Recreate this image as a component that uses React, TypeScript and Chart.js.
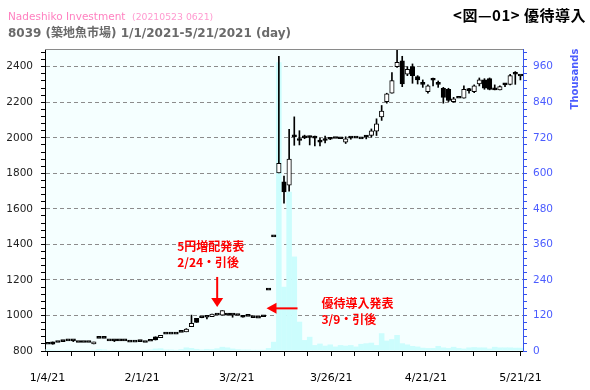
import { useEffect, useRef } from "react";
import { Chart, registerables } from "chart.js";

Chart.register(...registerables);

const dates = [
  "1/4","1/5","1/6","1/7","1/8","1/12","1/13","1/14","1/15","1/18","1/19","1/20","1/21","1/22","1/25","1/26","1/27","1/28","1/29",
  "2/1","2/2","2/3","2/4","2/5","2/8","2/9","2/10","2/12","2/15","2/16","2/17","2/18","2/19","2/22","2/24","2/25","2/26",
  "3/1","3/2","3/3","3/4","3/5","3/8","3/9","3/10","3/11","3/12","3/15","3/16","3/17","3/18","3/19","3/22","3/23","3/24","3/25","3/26","3/29","3/30","3/31",
  "4/1","4/2","4/5","4/6","4/7","4/8","4/9","4/12","4/13","4/14","4/15","4/16","4/19","4/20","4/21","4/22","4/23","4/26","4/27","4/28","4/30",
  "5/6","5/7","5/10","5/11","5/12","5/13","5/14","5/17","5/18","5/19","5/20","5/21",
];

const opens = [
  838,851,848,853,857,857,848,848,848,840,871,871,857,857,857,857,850,850,853,848,
  855,880,875,895,895,895,905,908,937,984,987,990,993,1002,1002,1002,1002,1000,998,995,
  988,985,993,1143,1442,1803,1752,1734,2005,1994,2010,2002,1998,1985,1985,1998,1996,1995,1976,1998,
  1998,1994,2004,2013,2038,2118,2204,2251,2401,2434,2358,2401,2345,2301,2260,2324,2301,2279,2273,2204,
  2223,2223,2273,2260,2303,2326,2333,2275,2270,2298,2301,2358,2348,
];
const highs = [
  838,851,848,853,857,860,848,848,848,850,871,871,857,862,857,857,850,850,853,848,
  855,880,888,895,895,895,905,926,1002,984,990,990,1008,1002,1027,1005,1002,1000,998,995,
  988,985,993,1143,1442,2459,1785,2048,2118,2040,2015,2010,2010,1998,2010,2002,1996,1995,2006,2004,
  1998,1994,2013,2050,2107,2182,2251,2367,2495,2459,2401,2416,2350,2326,2298,2337,2320,2284,2279,2228,
  2223,2292,2279,2298,2337,2333,2337,2298,2292,2307,2358,2373,2348,
];
const lows = [
  838,838,848,853,857,853,848,848,848,840,871,871,857,853,857,857,850,850,853,848,
  855,862,875,895,895,895,905,908,937,961,987,980,993,1002,1002,1002,990,1000,990,995,
  988,985,993,1143,1442,1803,1632,1700,1958,1960,1995,1960,1955,1955,1972,1990,1996,1995,1968,1992,
  1998,1994,1994,2004,2013,2098,2195,2251,2397,2288,2350,2307,2303,2284,2251,2292,2284,2195,2204,2200,
  2223,2223,2251,2254,2292,2273,2270,2270,2270,2288,2298,2301,2326,
];
const closes = [
  838,838,848,853,857,857,848,848,848,850,871,871,857,857,857,857,850,850,853,848,
  855,862,888,895,895,895,905,924,956,961,987,990,1008,1002,1027,1002,1002,1000,990,995,
  988,985,993,1143,1442,1856,1696,1880,2005,1985,2000,2002,1998,1976,1985,1992,1996,1995,1994,1998,
  1998,1994,2004,2040,2079,2151,2247,2322,2425,2303,2386,2350,2326,2301,2292,2324,2301,2228,2210,2219,
  2223,2273,2266,2292,2326,2279,2273,2270,2288,2298,2350,2358,2348,
];
// volume in thousands of shares
const volumes = [
  5,4,3,3,4,3,3,3,3,4,6,5,3,4,3,3,3,3,3,4,
  5,8,9,5,5,4,6,12,10,7,5,7,6,9,14,12,8,6,5,5,
  4,4,4,10,31,975,217,538,319,99,37,48,20,25,18,22,15,20,18,20,
  15,24,26,28,20,60,35,40,54,26,22,17,15,11,10,10,17,12,10,14,
  10,8,12,13,12,12,8,14,12,12,12,11,11,
];

const xTickLabels = ["1/4/21", "2/1/21", "3/2/21", "3/26/21", "4/21/21", "5/21/21"];

const annotationLines = [
  ["5円増配発表", "2/24・引後"],
  ["優待導入発表", "3/9・引後"],
];
const annotationIndex = [33, 42.6];
const annotationPrice = [1048, 1040];

const FONT = "'DejaVu Sans', 'Noto Sans CJK JP', sans-serif";
const CJK = "'Noto Sans CJK JP', 'DejaVu Sans', sans-serif";

function range(a: number, b: number, s: number) {
  const out: number[] = [];
  for (let v = a; v <= b + 1e-9; v += s) out.push(v);
  return out;
}

const decor = {
  id: "decor",
  beforeDraw(chart: any) {
    const { ctx, chartArea: a } = chart;
    ctx.save();
    ctx.fillStyle = "#f5ffff";
    ctx.fillRect(a.left, a.top, a.right - a.left, a.bottom - a.top);
    ctx.restore();
  },
  afterDraw(chart: any) {
    const { ctx, chartArea: a, scales } = chart;
    ctx.save();
    ctx.strokeStyle = "#8a8a8a";
    ctx.lineWidth = 1;
    ctx.beginPath();
    ctx.moveTo(a.left, a.top + 0.5);
    ctx.lineTo(a.right, a.top + 0.5);
    ctx.stroke();

    // header
    ctx.textBaseline = "alphabetic";
    ctx.textAlign = "left";
    ctx.fillStyle = "#ff80c0";
    ctx.font = `10.5px ${FONT}`;
    ctx.fillText("Nadeshiko Investment", 8, 20);
    ctx.fillStyle = "#ff9ad0";
    ctx.font = `9.3px ${FONT}`;
    ctx.fillText("(20210523 0621)", 132, 20);
    ctx.fillStyle = "#6a6a6a";
    ctx.font = `bold 12px ${FONT}`;
    ctx.fillText("8039 (築地魚市場) 1/1/2021-5/21/2021 (day)", 8, 37);
    ctx.fillStyle = "#000";
    ctx.font = `bold 15px ${CJK}`;
    ctx.textAlign = "right";
    (ctx as any).letterSpacing = "0.5px";
    ctx.fillText("<図—01> 優待導入", 586, 21);
    (ctx as any).letterSpacing = "0px";

    // right axis title
    ctx.save();
    ctx.translate(578, 79);
    ctx.rotate(-Math.PI / 2);
    ctx.textAlign = "center";
    ctx.fillStyle = "#4b5cff";
    ctx.font = `bold 10px ${FONT}`;
    ctx.fillText("Thousands", 0, 0);
    ctx.restore();

    // annotations
    const xs = scales.x;
    const ys = scales.y;
    ctx.fillStyle = "#ff0000";
    ctx.strokeStyle = "#ff0000";
    ctx.lineWidth = 2;
    ctx.textAlign = "left";
    ctx.font = `bold 12px ${CJK}`;
    {
      const x = xs.getPixelForValue(annotationIndex[0]);
      const y = ys.getPixelForValue(annotationPrice[0]);
      ctx.beginPath();
      ctx.moveTo(x, y - 30);
      ctx.lineTo(x, y - 8);
      ctx.stroke();
      ctx.beginPath();
      ctx.moveTo(x - 6, y - 9);
      ctx.lineTo(x + 6, y - 9);
      ctx.lineTo(x, y);
      ctx.closePath();
      ctx.fill();
      ctx.fillText(annotationLines[0][0], x - 40, y - 56);
      ctx.fillText(annotationLines[0][1], x - 40, y - 40);
    }
    {
      const x = xs.getPixelForValue(annotationIndex[1]);
      const y = ys.getPixelForValue(annotationPrice[1]);
      ctx.beginPath();
      ctx.moveTo(x + 9, y);
      ctx.lineTo(x + 31, y);
      ctx.stroke();
      ctx.beginPath();
      ctx.moveTo(x + 10, y - 5.5);
      ctx.lineTo(x + 10, y + 5.5);
      ctx.lineTo(x, y);
      ctx.closePath();
      ctx.fill();
      ctx.fillText(annotationLines[1][0], x + 55, y);
      ctx.fillText(annotationLines[1][1], x + 55, y + 16);
    }
    ctx.restore();
  },
};

export default function App() {
  const ref = useRef<HTMLCanvasElement>(null);
  useEffect(() => {
    const canvas = ref.current!;
    const bodies = opens.map((o, i) => [o, closes[i]]);
    const wicks = highs.map((h, i) => (h === lows[i] ? null : [lows[i], h]));
    const bodyFill = opens.map((o, i) => (closes[i] > o ? "#ffffff" : "#000000"));
    const n = dates.length;
    const xTicks = range(0, 20, 1).map((k) => (k * (n - 1)) / 20);

    const chart = new Chart(canvas, {
      type: "bar",
      data: {
        labels: dates,
        datasets: [
          {
            label: "body",
            data: bodies as any,
            xAxisID: "x",
            yAxisID: "y",
            backgroundColor: bodyFill,
            borderColor: "#000",
            borderWidth: 1,
            borderSkipped: false,
            barThickness: 4.5,
            minBarLength: 2,
            grouped: false,
            order: 1,
          } as any,
          {
            label: "wick",
            data: wicks as any,
            xAxisID: "x",
            yAxisID: "y",
            backgroundColor: "#000",
            barThickness: 1,
            grouped: false,
            order: 2,
          } as any,
          {
            label: "volume",
            data: volumes,
            xAxisID: "x",
            yAxisID: "yv",
            backgroundColor: "#ccfdfd",
            barPercentage: 1.08,
            categoryPercentage: 1,
            grouped: false,
            order: 3,
          } as any,
        ],
      },
      options: {
        responsive: false,
        animation: false,
        devicePixelRatio: 1,
        layout: { padding: { top: 49, left: 0, right: 0, bottom: 0 } },
        plugins: { legend: { display: false }, tooltip: { enabled: false }, title: { display: false } },
        scales: {
          x: { type: "category", offset: true, display: false, grid: { display: false } },
          xt: {
            type: "linear",
            position: "bottom",
            offset: false,
            min: -0.5,
            max: n - 0.5,
            afterBuildTicks: (s: any) => {
              s.ticks = xTicks.map((v) => ({ value: v }));
            },
            afterFit: (s: any) => {
              s.height = 39;
            },
            ticks: {
              autoSkip: false,
              maxRotation: 0,
              padding: 16,
              color: "#000",
              font: { family: FONT, size: 11 },
              callback: (_v: any, i: number) => (i % 4 === 0 ? xTickLabels[i / 4] : ""),
            },
            grid: { offset: false, drawOnChartArea: false, tickLength: 5, tickColor: "#000", color: "#000" },
            border: { color: "#000" },
          } as any,
          y: {
            position: "left",
            min: 800,
            max: 2500,
            afterBuildTicks: (s: any) => {
              s.ticks = range(800, 2480, 40).map((v) => ({ value: v }));
            },
            afterFit: (s: any) => {
              s.width = 45;
            },
            ticks: {
              autoSkip: false,
              padding: 8,
              color: "#222",
              font: { family: FONT, size: 10.5 },
              callback: (v: any) => (Math.round(v) % 200 === 0 ? String(v) : ""),
            },
            grid: {
              color: (c: any) =>
                c.tick && Math.round(c.tick.value) % 200 === 0 && c.tick.value > 800 ? "#8c8c8c" : "rgba(0,0,0,0)",
              tickColor: "#000",
              tickLength: 4,
            },
            border: { color: "#000", dash: [4, 3] },
          } as any,
          yv: {
            position: "right",
            min: 0,
            max: 1020,
            afterBuildTicks: (s: any) => {
              s.ticks = range(0, 1008, 24).map((v) => ({ value: v }));
            },
            afterFit: (s: any) => {
              s.width = 67;
            },
            ticks: {
              autoSkip: false,
              padding: 6,
              color: "#4b5cff",
              font: { family: FONT, size: 10.5 },
              callback: (v: any) => (Math.round(v) % 120 === 0 ? String(v) : ""),
            },
            grid: { drawOnChartArea: false, tickColor: "#3553ee", tickLength: 4 },
            border: { color: "#3553ee" },
          } as any,
        },
      },
      plugins: [decor],
    });
    return () => chart.destroy();
  }, []);
  return (
    <div style={{ position: "absolute", left: 0, top: 0, width: 590, height: 390, background: "#fff" }}>
      <canvas ref={ref} width={590} height={390} style={{ display: "block", width: 590, height: 390 }} />
    </div>
  );
}
